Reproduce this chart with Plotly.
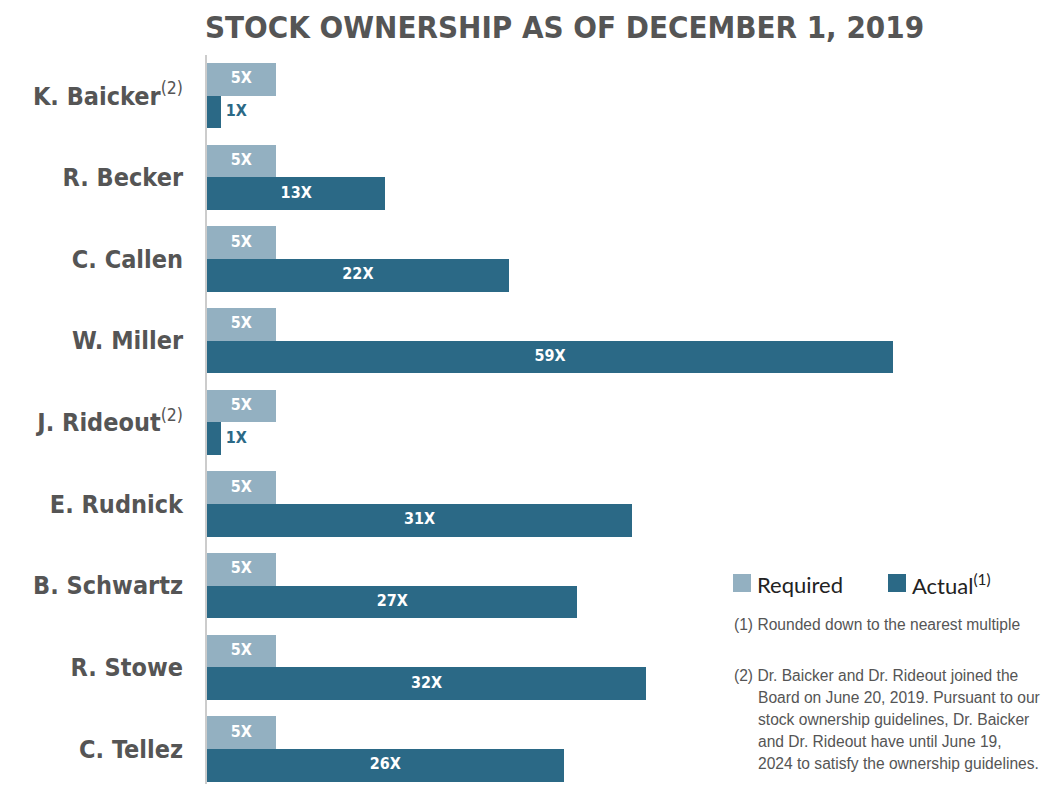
import plotly.graph_objects as go

names = ["K. Baicker", "R. Becker", "C. Callen", "W. Miller", "J. Rideout",
         "E. Rudnick", "B. Schwartz", "R. Stowe", "C. Tellez"]
name_notes = ["(2)", "", "", "", "(2)", "", "", "", ""]
required = [5, 5, 5, 5, 5, 5, 5, 5, 5]
actual = [1, 13, 22, 59, 1, 31, 27, 32, 26]
series_names = ["Required", "Actual"]
series_notes = ["", "(1)"]
title_text = "STOCK OWNERSHIP AS OF DECEMBER 1, 2019"
note1 = "(1) Rounded down to the nearest multiple"
note2_first = "(2) Dr. Baicker and Dr. Rideout joined the"
note2_rest = ["Board on June 20, 2019. Pursuant to our",
              "stock ownership guidelines, Dr. Baicker",
              "and Dr. Rideout have until June 19,",
              "2024 to satisfy the ownership guidelines."]

C_REQ = "#93B0C1"
C_ACT = "#2B6986"
GRAY = "#555555"
XMAX = 50
COND = "DejaVu Sans Condensed, Roboto"

def sup(s):
    return f"<span style='font-weight:normal'><sup>{s}</sup></span>" if s else ""

ticktext = [n + sup(s) for n, s in zip(names, name_notes)]
idx = list(range(len(names)))
y_req = [i - 0.2 for i in idx]
y_act = [i + 0.2 for i in idx]

fig = go.Figure()
fig.add_trace(go.Bar(y=y_req, x=required, orientation="h", width=0.4, name=series_names[0],
                     marker=dict(color=C_REQ, line=dict(width=0)), hoverinfo="skip", showlegend=False))
fig.add_trace(go.Bar(y=y_act, x=actual, orientation="h", width=0.4, name=series_names[1],
                     marker=dict(color=C_ACT, line=dict(width=0)), hoverinfo="skip", showlegend=False))

# value labels
lx, ly, lt, lp, lc = [], [], [], [], []
for yy, v in zip(y_req, required):
    lx.append(min(v, XMAX) / 2); ly.append(yy); lt.append(f"{v}X"); lp.append("middle center"); lc.append("white")
for yy, v in zip(y_act, actual):
    if v < 3:
        lx.append(v); ly.append(yy); lt.append(f" {v}X"); lp.append("middle right"); lc.append(C_ACT)
    else:
        lx.append(min(v, XMAX) / 2); ly.append(yy); lt.append(f"{v}X"); lp.append("middle center"); lc.append("white")
fig.add_trace(go.Scatter(x=lx, y=ly, text=lt, mode="text", textposition=lp,
                         textfont=dict(color=lc, size=16, family=COND, weight="bold"),
                         showlegend=False, hoverinfo="skip", cliponaxis=False))

# page body has an 8px margin: figure is drawn at (8, 8)
fig.update_layout(
    width=1043, height=776,
    margin=dict(l=199, r=158, t=47, b=0, autoexpand=False),
    plot_bgcolor="white", paper_bgcolor="white",
    barmode="overlay", bargap=0,
    showlegend=False,
    xaxis=dict(range=[0, XMAX], visible=False, fixedrange=True, automargin=False),
    yaxis=dict(range=[len(names) - 0.57, -0.5], tickvals=idx, ticktext=ticktext,
               showgrid=False, zeroline=False, showline=True, linecolor="#cccccc", linewidth=2,
               ticks="", ticklabelstandoff=17, automargin=False,
               tickfont=dict(family=COND, size=25, color=GRAY, weight="bold")),
)

fig.add_annotation(text=title_text, xref="paper", yref="paper", x=0, y=1, yshift=47,
                   xanchor="left", yanchor="top", showarrow=False, xshift=-3, borderpad=0,
                   font=dict(family=COND, size=31, color=GRAY, weight="bold"))

# helpers in screenshot pixel coordinates -> paper coords (plot area 207..893 x 55..784)
PX0 = 207; PW = 686; PT = 55; PH = 729
def px(x): return (x - PX0) / PW
def py(y): return 1 - (y - PT) / PH

# legend (manual)
LEG_FONT = dict(family="Lato, Open Sans", size=22, color="#222222")
for sx, col, nm, nt in zip([733, 888], [C_REQ, C_ACT], series_names, series_notes):
    fig.add_shape(type="rect", xref="paper", yref="paper", x0=px(sx), x1=px(sx + 18),
                  y0=py(592), y1=py(574), fillcolor=col, line=dict(width=0))
    label = nm + (f"<sup>{nt}</sup>" if nt else "")
    fig.add_annotation(text=label, xref="paper", yref="paper", x=px(sx + 22), y=py(584),
                       xanchor="left", yanchor="middle", showarrow=False, font=LEG_FONT)

NOTE_FONT = dict(family="Liberation Sans, Arial", size=15.6, color=GRAY)
fig.add_annotation(text=note1, xref="paper", yref="paper", x=px(732), y=py(624),
                   xanchor="left", yanchor="middle", showarrow=False, font=NOTE_FONT)
fig.add_annotation(text=note2_first, xref="paper", yref="paper", x=px(732), y=py(675),
                   xanchor="left", yanchor="middle", showarrow=False, font=NOTE_FONT)
for k, line in enumerate(note2_rest):
    fig.add_annotation(text=line, xref="paper", yref="paper", x=px(756), y=py(697 + 22.2 * k),
                       xanchor="left", yanchor="middle", showarrow=False, font=NOTE_FONT)

fig.write_html("out.html")
